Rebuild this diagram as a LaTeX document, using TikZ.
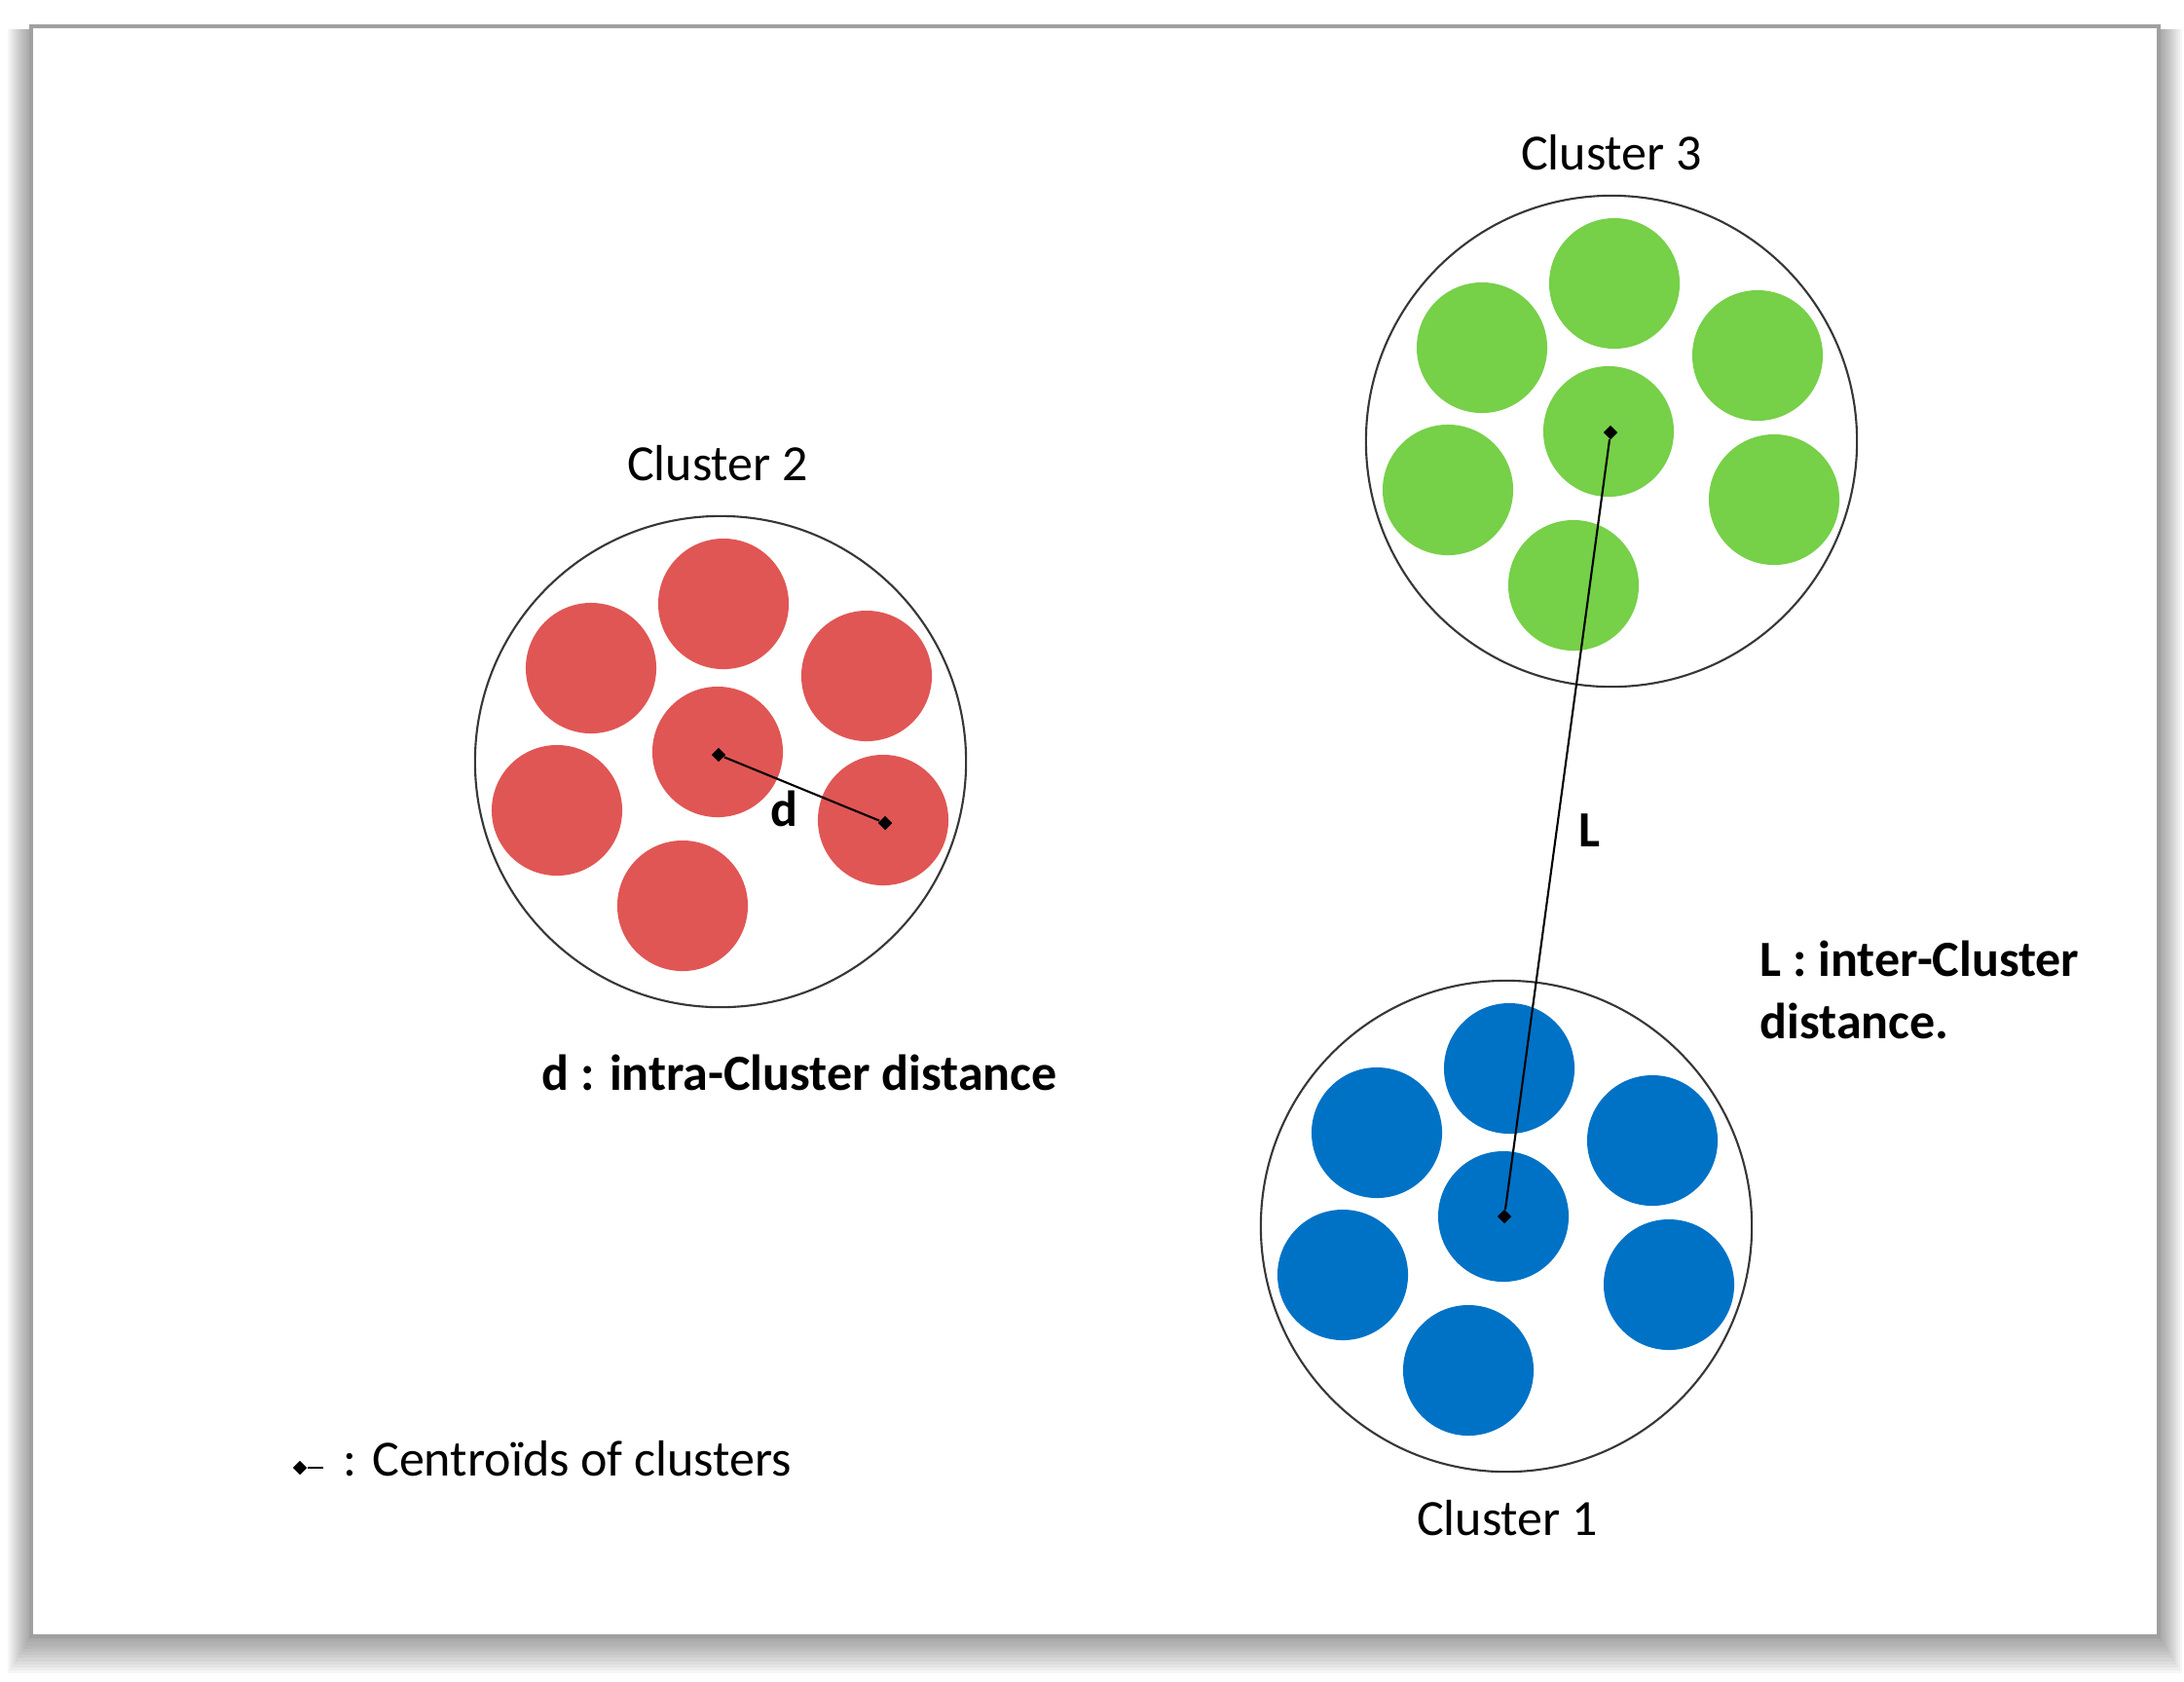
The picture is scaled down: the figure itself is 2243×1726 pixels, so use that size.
\documentclass[tikz,border=0pt]{standalone}
\usepackage{fontspec}
\setmainfont{Carlito}
\usepackage{tikz}
\usetikzlibrary{positioning,shapes.geometric}
\tikzstyle{canvas} = [x = .01cm, y = -.01cm]
\definecolor{redDot}{RGB}{224,86,84}
\definecolor{greenDot}{RGB}{118,208,72}
\definecolor{blueDot}{RGB}{0,114,198}
\definecolor{ringColor}{RGB}{55,55,55}
\definecolor{frameColor}{RGB}{160,160,160}
\tikzstyle{ringStyle} = [draw=ringColor, line width=.6pt]
\tikzstyle{centroid} = [diamond, fill=black, inner sep=0pt, minimum size=.15cm]
\tikzstyle{linkLine} = [black, line width=.6pt]
\tikzstyle{labelText} = [font=\fontsize{14.8}{18.2}\selectfont]
\tikzstyle{boldText} = [font=\fontsize{14.8}{18.2}\selectfont\bfseries]
\newcommand{\clusterDots}[3]{
  \draw [ringStyle] (#1 + 3, #2 + 10) circle (2.52cm);
  \foreach \dx/\dy in {6/-152, -130/-86, 153/-78, 0/0, -165/60, 170/70, -36/158} {
    \fill [#3] (#1 + \dx, #2 + \dy) circle (.67cm);
  }
}

\begin{document}
\begin{tikzpicture}[canvas]
  \useasboundingbox (0,0) rectangle (2243,1726);

  % frame and its shadow
  \foreach \s in {2,4,...,24} {
    \fill [black, opacity=.035] (32 - \s, 30) rectangle (2217 + \s, 1680 + 1.6 * \s);
  }
  \filldraw [fill=white, draw=frameColor, line width=1pt] (32,27) rectangle (2217,1680);

  \clusterDots{1652}{443}{greenDot}
  \clusterDots{737}{772}{redDot}
  \clusterDots{1544}{1249}{blueDot}

  \node [centroid] (cent3) at (1654,444) {};
  \node [centroid] (cent2) at (738,775) {};
  \node [centroid] (cent1) at (1545,1249) {};
  \node [centroid] (edge2) at (909,845) {};
  \draw [linkLine] (cent2) -- (edge2);
  \draw [linkLine] (cent3) -- (cent1);

  \node [labelText] (title3) at (1655,157) {Cluster 3};
  \node [labelText] (title2) at (737,476) {Cluster 2};
  \node [labelText] (title1) at (1548,1559) {Cluster 1};
  \node [boldText] (dLabel) at (805,830) {d};
  \node [boldText] (lLabel) at (1632,853) {L};
  \node [boldText] (dNote) at (821,1101) {d : intra-Cluster distance};
  \node [boldText, align=left, anchor=west, inner sep=0pt] (lNote) at (1807,1016) {L : inter-Cluster\\distance.};

  % legend
  \node [centroid] (legendMark) at (308,1507) {};
  \coordinate (legendEnd) at (332,1507);
  \draw [linkLine] (legendMark) -- (legendEnd);
  \node [labelText, anchor=base west, inner sep=0pt] (legend) at (352,1515) {: Centroïds of clusters};
\end{tikzpicture}
\end{document}
